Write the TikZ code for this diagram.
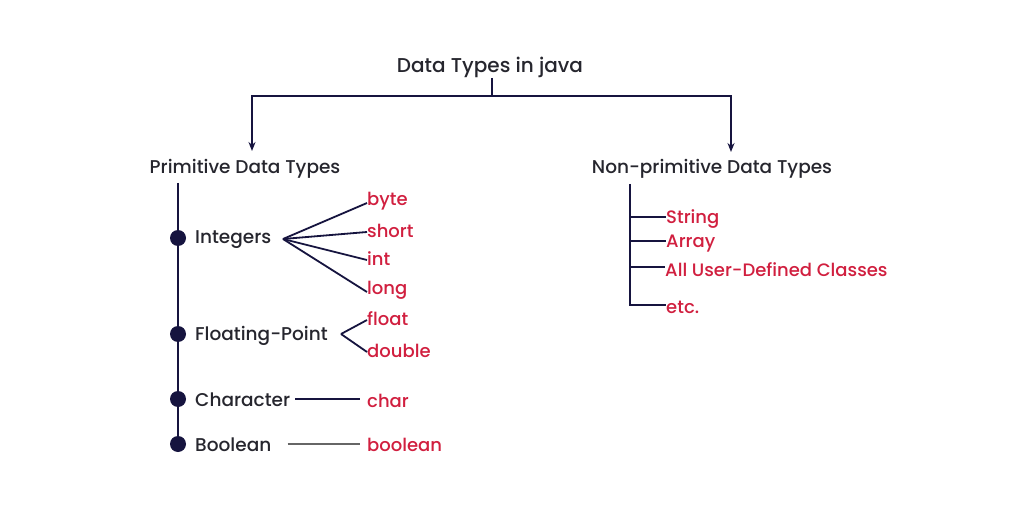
\documentclass[tikz,border=0pt]{standalone}
\usepackage{fontspec}
\setmainfont{Poppins}[UprightFont=* Medium]
\usetikzlibrary{arrows.meta}
\definecolor{ink}{HTML}{26262E}
\definecolor{navy}{HTML}{16143F}
\definecolor{jred}{HTML}{D11F3F}
\begin{document}
\begin{tikzpicture}[x=1pt,y=-1pt,
  lbl/.style={inner sep=0pt,text=ink,font=\fontsize{18.5}{21}\selectfont},
  head/.style={inner sep=0pt,text=ink,font=\fontsize{20}{23}\selectfont},
  red/.style={inner sep=0pt,text=jred,font=\fontsize{18}{21}\selectfont,anchor=west},
  ln/.style={draw=navy,line width=1.8pt},
  arr/.style={ln,-{Stealth[length=9pt,width=7pt]}},
  dot/.style={circle,fill=navy,inner sep=0pt,minimum size=16pt}]
\useasboundingbox (0,0) rectangle (1017,513);
\fill[white] (0,0) rectangle (1017,513);
% title
\node[head] (title) at (490,67) {Data Types in java};
\node[lbl] (prim) at (245,169) {Primitive Data Types};
\node[lbl] (nonp) at (712,169) {Non-primitive Data Types};
\coordinate (stem) at (492,96);
\coordinate (pa) at (252,151);
\coordinate (na) at (731,152);
\draw[ln] (stem |- 0,78) -- (stem);
\draw[arr] (stem) -| (pa);
\draw[arr] (stem) -| (na);
% primitive spine
\coordinate (ptop) at (178,183);
\coordinate (pbot) at (178,444);
\draw[ln] (ptop) -- (pbot);
\node[dot] (d1) at (178,238) {};
\node[dot] (d2) at (178,334) {};
\node[dot] (d3) at (178,399) {};
\node[dot] (d4) at (178,444) {};
\node[lbl,anchor=west] (int) at (195,240) {Integers};
\node[lbl,anchor=west] (flt) at (195,336) {Floating-Point};
\node[lbl,anchor=west] (chr) at (195,400) {Character};
\node[lbl,anchor=west] (bool) at (195,445) {Boolean};
% integer fan
\coordinate (fi) at (283,239);
\node[red] (byte) at (367,201) {byte};
\node[red] (short) at (367,231) {short};
\node[red] (tint) at (367,259) {int};
\node[red] (long) at (367,290) {long};
\draw[ln] (fi) -- ([yshift=-2pt]byte.west);
\draw[ln] (fi) -- ([yshift=-1pt]short.west);
\draw[ln] (fi) -- ([yshift=-1pt]tint.west);
\draw[ln] (fi) -- ([yshift=-2pt]long.west);
% floating fan
\coordinate (ff) at (341,334);
\node[red] (float) at (367,319) {float};
\node[red] (double) at (367,351) {double};
\draw[ln] (ff) -- ([yshift=-1pt]float.west);
\draw[ln] (ff) -- ([yshift=-1pt]double.west);
% char / boolean
\node[red] (char) at (367,401) {char};
\node[red] (boolv) at (367,445) {boolean};
\coordinate (cy) at (0,399);
\coordinate (by) at (0,444);
\draw[ln] ([xshift=5pt]chr.east |- cy) -- ([xshift=-7pt]char.west |- cy);
\draw[draw=gray!80!black,line width=1.6pt] ([xshift=16pt]bool.east |- by) -- ([xshift=-7pt]boolv.west |- by);
% non-primitive
\coordinate (ntop) at (630,184);
\coordinate (nbot) at (630,305);
\node[red] (str) at (666,219) {String};
\node[red] (arrn) at (666,244) {Array};
\node[red] (udc) at (665,270) {All User-Defined Classes};
\node[red] (etc) at (666,307) {etc.};
\draw[ln] (ntop) -- (nbot) -- (etc.west |- nbot);
\draw[ln] (ntop |- 0,217) -- (str.west |- 0,217);
\draw[ln] (ntop |- 0,241) -- (arrn.west |- 0,241);
\draw[ln] (ntop |- 0,267) -- (udc.west |- 0,267);
\end{tikzpicture}
\end{document}
